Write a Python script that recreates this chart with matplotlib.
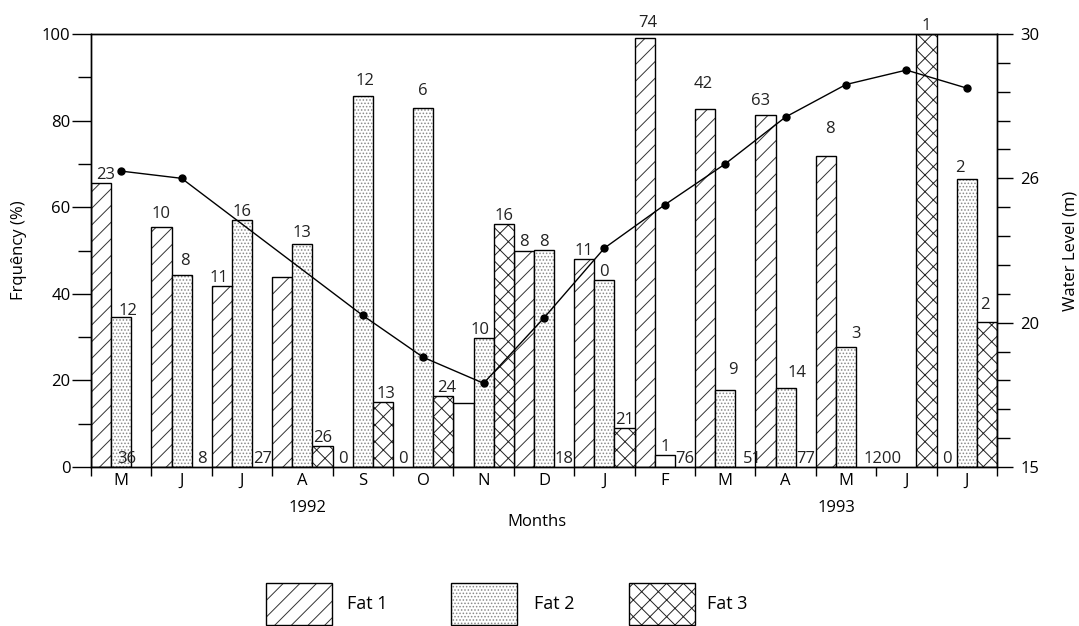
import numpy as np
import matplotlib.pyplot as plt
from matplotlib.patches import Rectangle
from matplotlib.ticker import FixedLocator, NullFormatter, FixedFormatter

plt.rcParams['font.family'] = ['Open Sans', 'DejaVu Sans']
plt.rcParams['hatch.linewidth'] = 0.7

months = ['M', 'J', 'J', 'A', 'S', 'O', 'N', 'D', 'J', 'F', 'M', 'A', 'M', 'J', 'J']

# frequency (%) of each fat class per month, NaN = no bar
fat1 = [65.6, 55.4, 41.8, 43.9, 0, 0, 14.8, 50.0, 48.0, 99.0, 82.6, 81.4, 71.9, np.nan, 0]
fat2 = [34.6, 44.3, 57.0, 51.5, 85.7, 82.9, 29.8, 50.2, 43.2, 2.8, 17.8, 18.3, 27.6, np.nan, 66.4]
fat3 = [0, 0, 0, 4.8, 15.0, 16.4, 56.1, 0, 8.9, 0, 0, 0, 0, 100, 33.4]

# number of fish written on each bar
n1 = ['23', '10', '11', '', '0', '0', '', '8', '11', '74', '42', '63', '8', '', '0']
n2 = ['12', '8', '16', '13', '12', '6', '10', '8', '0', '1', '9', '14', '3', '', '2']
n3 = ['36', '8', '27', '26', '13', '24', '16', '18', '21', '76', '51', '77', '1200', '1', '2']

# water level (m)
level_months = [0, 1, 4, 5, 6, 7, 8, 9, 10, 11, 12, 13, 14]
water_level = [26.2, 26.0, 20.3, 18.8, 17.9, 20.2, 23.1, 24.9, 26.4, 27.7, 28.6, 29.0, 28.5]
level_ticks = [15, 20, 26, 30]

# bars printed without shading (class, month)
unshaded = {(0, 6), (1, 9)}

# label nudges in pixels (class, month) -> (dx, dy)
nudge = {
    (0, 0): (5, 0), (1, 0): (7, -2), (2, 0): (-15, 0),
    (0, 1): (0, 5), (1, 1): (3, 6), (0, 2): (-3, 0), (1, 3): (0, 3),
    (1, 4): (2, 7), (2, 4): (3, 0), (1, 5): (0, 9), (2, 5): (3, 0),
    (1, 6): (-4, 0), (0, 9): (3, 7),
    (0, 10): (-2, 17), (1, 10): (8, 12), (2, 10): (7, 0),
    (0, 11): (-5, 6), (1, 11): (11, 7),
    (0, 12): (4, 19), (1, 12): (10, 5), (2, 12): (16, 0),
    (1, 14): (-7, 3), (2, 14): (-2, 9),
}

hatches = ['//', '.....', 'xx']
hatch_cols = ['#333333', '#8a8a8a', '#222222']

fig = plt.figure(figsize=(10.79, 6.26), dpi=100)
ax = fig.add_axes([91 / 1079, 1 - 467 / 626, 906 / 1079, 433 / 626])

w = 1 / 3
x = np.arange(len(months))
for k, (vals, labels) in enumerate([(fat1, n1), (fat2, n2), (fat3, n3)]):
    pos = x - 0.5 + (k + 0.5) * w
    for i, h in enumerate(vals):
        if np.isnan(h):
            continue
        if h > 0:
            if (k, i) in unshaded:
                ax.bar(pos[i], h, w, color='white', edgecolor='black', lw=1, zorder=2)
            else:
                ax.bar(pos[i], h, w, color='white', edgecolor=hatch_cols[k],
                       hatch=hatches[k], lw=0, zorder=2)
                ax.bar(pos[i], h, w, fill=False, edgecolor='black', lw=1, zorder=2)
        if labels[i]:
            dx, dy = nudge.get((k, i), (0, 0))
            ax.annotate(labels[i], (pos[i], h), xytext=(dx, 4 + dy),
                        textcoords='offset pixels', ha='center', va='baseline',
                        fontsize=12, color='#222222', zorder=4)

ax.set_xlim(-0.5, len(months) - 0.5)
ax.set_ylim(0, 100)
ax.yaxis.set_major_locator(FixedLocator(np.arange(0, 101, 20)))
ax.yaxis.set_minor_locator(FixedLocator(np.arange(10, 100, 20)))
ax.tick_params(axis='y', which='major', length=13.7, width=1, pad=1, labelsize=12)
ax.tick_params(axis='y', which='minor', length=9.4, width=1)

ax.xaxis.set_major_locator(FixedLocator(np.arange(-0.5, len(months), 1)))
ax.xaxis.set_major_formatter(NullFormatter())
ax.xaxis.set_minor_locator(FixedLocator(x))
ax.xaxis.set_minor_formatter(FixedFormatter(months))
ax.tick_params(axis='x', which='major', length=6.5, width=1)
ax.tick_params(axis='x', which='minor', length=0, pad=4.5, labelsize=12)

ax.set_ylabel('Frquêncy (%)', fontsize=12)
ax.yaxis.set_label_coords(-0.0706, 0.5)
for s in ax.spines.values():
    s.set_linewidth(1)

# water level on a right axis with the printed (uneven) scale
ax2 = ax.twinx()
tick_pos = [0, 5, 10, 15]
ax2.set_yscale('function', functions=(lambda v: np.interp(v, level_ticks, tick_pos),
                                      lambda p: np.interp(p, tick_pos, level_ticks)))
ax2.set_ylim(15, 30)
ax2.yaxis.set_major_locator(FixedLocator(level_ticks))
minor = np.interp(np.arange(16), tick_pos, level_ticks)
ax2.yaxis.set_minor_locator(FixedLocator([m for m in minor if m not in level_ticks]))
ax2.yaxis.set_minor_formatter(NullFormatter())
ax2.tick_params(axis='y', which='major', length=11.8, width=1, pad=5, labelsize=12)
ax2.tick_params(axis='y', which='minor', length=9.4, width=1)
ax2.plot(level_months, water_level, color='black', lw=1.0, marker='o', ms=5, zorder=5)
ax2.set_ylabel('Water Level (m)', fontsize=12)
ax2.yaxis.set_label_coords(1.0728, 0.5)
for s in ax2.spines.values():
    s.set_linewidth(1)

fig.text(307 / 1079, 1 - 508 / 626, '1992', ha='center', va='center', fontsize=12)
fig.text(836 / 1079, 1 - 508 / 626, '1993', ha='center', va='center', fontsize=12)
fig.text(537 / 1079, 1 - 522 / 626, 'Months', ha='center', va='center', fontsize=12)

# legend boxes under the plot
for k, (bx, tx, name) in enumerate([(266, 347, 'Fat 1'), (451, 534, 'Fat 2'), (629, 707, 'Fat 3')]):
    rect = (bx / 1079, 1 - 625 / 626)
    size = (66 / 1079, 42 / 626)
    fig.add_artist(Rectangle(rect, *size, transform=fig.transFigure, facecolor='white',
                             edgecolor=hatch_cols[k], hatch=hatches[k], lw=0))
    fig.add_artist(Rectangle(rect, *size, transform=fig.transFigure, fill=False,
                             edgecolor='black', lw=1))
    fig.text(tx / 1079, 1 - 604 / 626, name, ha='left', va='center', fontsize=13)

fig.savefig('out.png', dpi=100)
